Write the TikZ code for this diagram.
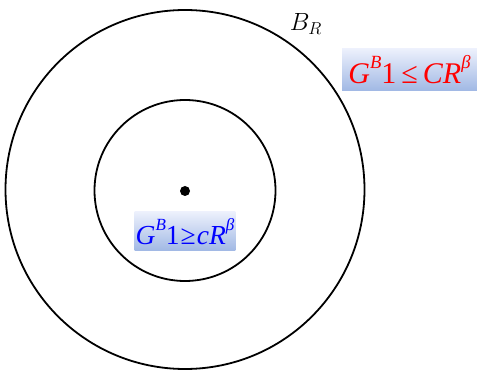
\documentclass[tikz,border=0pt]{standalone}
\usepackage{fontspec}
\usepackage{xcolor}
\usepackage{tikz}
\usetikzlibrary{positioning,calc}
\newfontfamily\tms{Liberation Serif}
\newcommand\hi[1]{\raisebox{.5em}{\scalebox{.62}{#1}}}
\definecolor{boxtop}{RGB}{236,240,252}
\definecolor{boxbot}{RGB}{160,184,228}

\begin{document}
\begin{tikzpicture}[
		x=1pt,y=-1pt,
		ring/.style={draw,circle,line width=1.8pt,inner sep=0pt},
		est/.style={shade,top color=boxtop,bottom color=boxbot,inner sep=1pt,font=\tms\fontsize{30}{30}\selectfont},
		]
		\useasboundingbox (0,0) rectangle (477,371);
		\node[ring,minimum size=359pt] (ball) at (185,189.5) {};
		\node[ring,minimum size=181pt] (inner) at (185,190.5) {};
		\node[circle,fill,inner sep=0pt,minimum size=10pt] (o) at (185,191) {};

		\node[font=\fontsize{24}{24}\selectfont] (br) at (306,24) {$B_R$};
		\node[est,text=red,minimum width=135pt,minimum height=42pt] (upper) at (409.5,70)
			{\itshape G\hi{B}\upshape1\,≤\,\itshape CR\hi{β}};
		\node[est,text=blue,minimum width=96pt,minimum height=39pt,font=\tms\fontsize{27.5}{28}\selectfont] (lower) at (185,231.5)
			{\itshape G\hi{B}\upshape1\kern1pt≥\kern1pt\itshape cR\hi{β}};
	\end{tikzpicture}
\end{document}
